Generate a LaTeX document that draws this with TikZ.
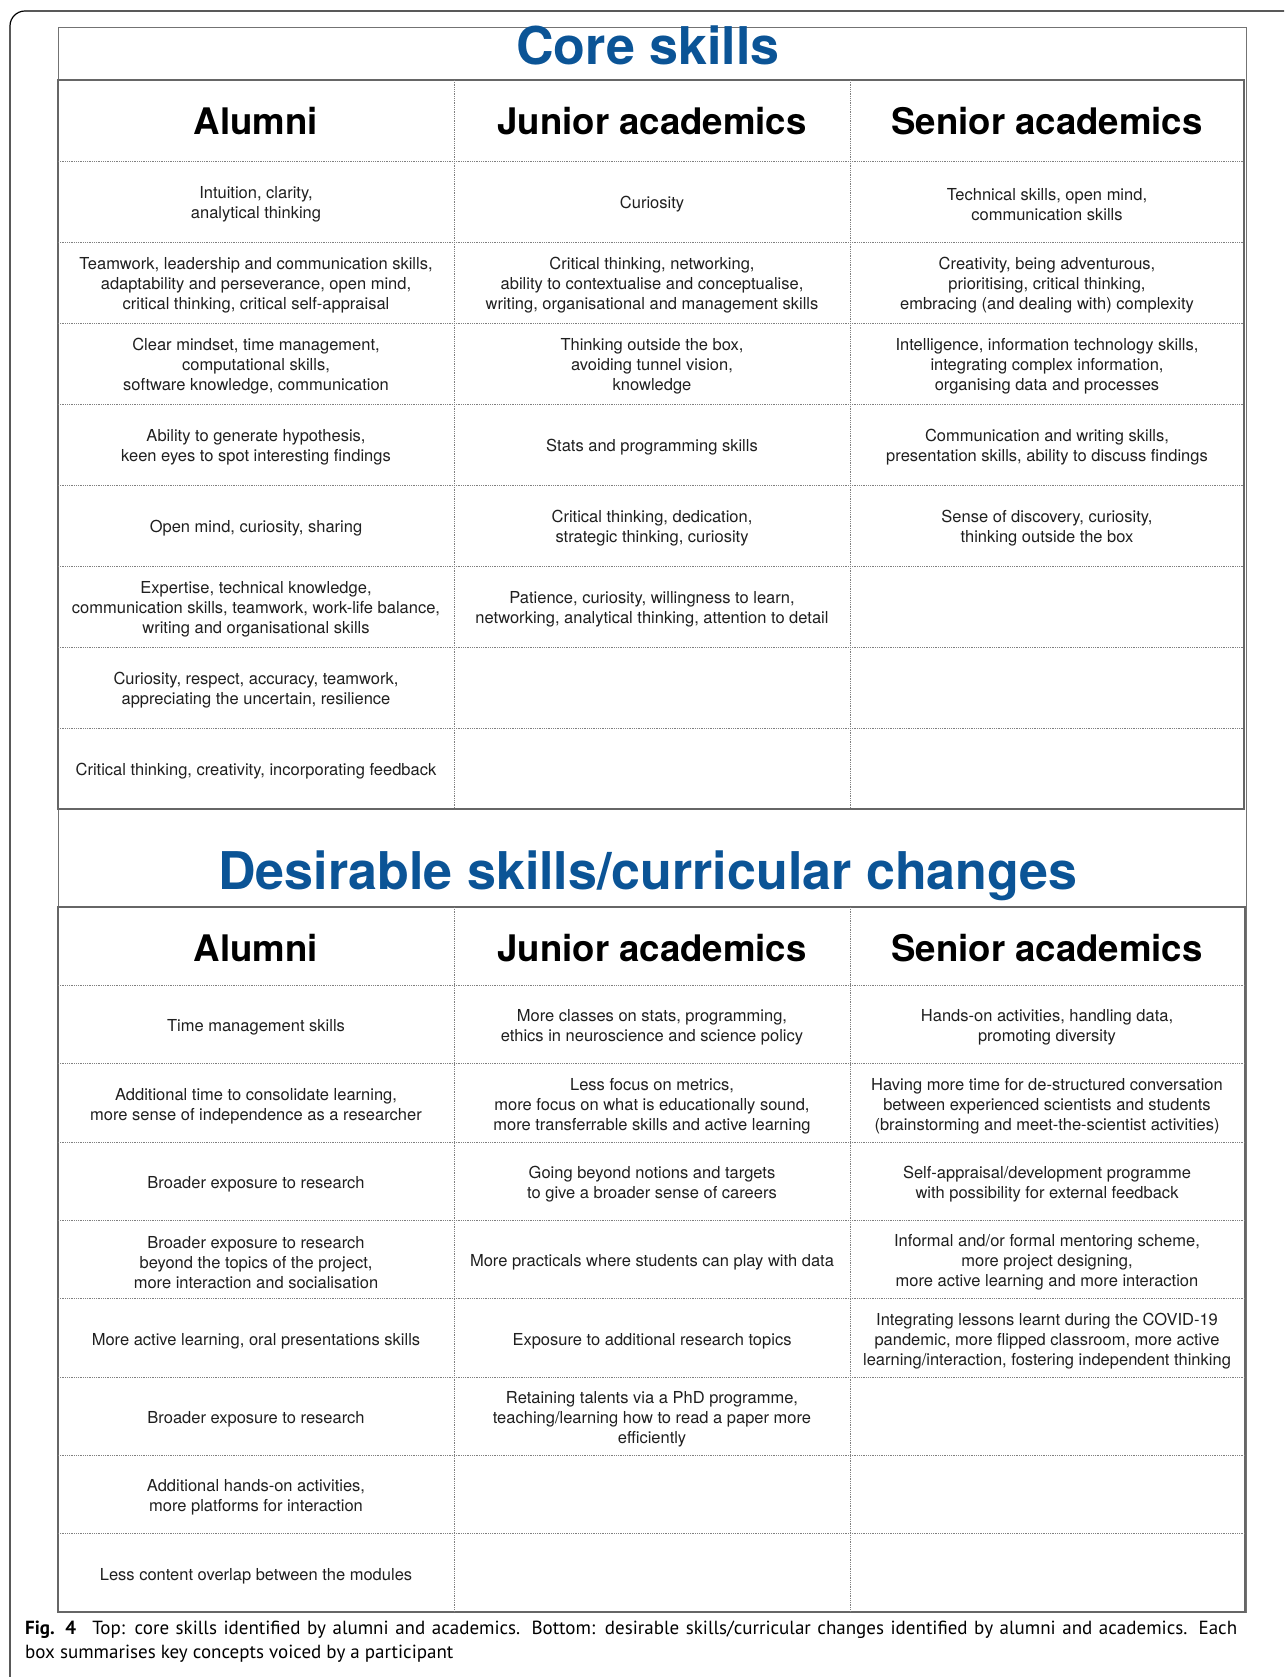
\documentclass[tikz,border=0pt]{standalone}
\usepackage{fontspec}
\setmainfont{TeX Gyre Heros}
\newfontfamily\capfont{PT Sans}
\usetikzlibrary{positioning,calc}
\definecolor{coreblue}{RGB}{11,84,150}
\tikzstyle{frame}=[draw=black,line width=1.2pt,rounded corners=15pt]
\tikzstyle{titlebox}=[draw=black!55,line width=0.8pt]
\tikzstyle{tablebox}=[draw=black!60,line width=1.8pt]
\tikzstyle{gridline}=[draw=black!50,densely dotted,line width=0.8pt]
\tikzstyle{title}=[anchor=base,text=coreblue,font=\fontsize{52}{60}\selectfont\bfseries]
\tikzstyle{head}=[anchor=base,font=\fontsize{36.6}{40}\selectfont\bfseries]
\tikzstyle{cell}=[align=center,inner sep=0pt,yshift=-3pt,text=black!88,font=\fontsize{16.5}{20}\selectfont]
\tikzstyle{capline}=[anchor=base west,inner sep=0pt,font=\capfont\fontsize{19}{24}\selectfont]

\begin{document}
\begin{tikzpicture}[x=1pt,y=-1pt]
\useasboundingbox (0,0) rectangle (1284,1677);
\draw[frame] (10,1677) -- (10,11) -- (1284,11);
\draw[titlebox] (58,27) rectangle (1246,1612);
\draw[tablebox] (58,80) rectangle (1244,809);
\draw[tablebox] (58,907) rectangle (1245,1612);
\foreach \k in {1,...,8} {
  \draw[gridline] (58,{80+81*\k}) -- (1244,{80+81*\k});
  \draw[gridline] (58,{907+78.33*\k}) -- (1245,{907+78.33*\k});
}
\foreach \x in {454,850} {
  \draw[gridline] (\x,80) -- (\x,809);
  \draw[gridline] (\x,907) -- (\x,1612);
}

\node[title] (core) at (648,65) {Core skills};
\node[head] (alumni1) at (256,135) {Alumni};
\node[head] (junior1) at (652,135) {Junior academics};
\node[head] (senior1) at (1047,135) {Senior academics};

\node[cell] (a1) at (256,201.5) {Intuition, clarity,\\analytical thinking};
\node[cell] (a2) at (256,282.5) {Teamwork, leadership and communication skills,\\adaptability and perseverance, open mind,\\critical thinking, critical self-appraisal};
\node[cell] (a3) at (256,363.5) {Clear mindset, time management,\\computational skills,\\software knowledge, communication};
\node[cell] (a4) at (256,444.5) {Ability to generate hypothesis,\\keen eyes to spot interesting findings};
\node[cell] (a5) at (256,525.5) {Open mind, curiosity, sharing};
\node[cell] (a6) at (256,606.5) {Expertise, technical knowledge,\\communication skills, teamwork, work-life balance,\\writing and organisational skills};
\node[cell] (a7) at (256,687.5) {Curiosity, respect, accuracy, teamwork,\\appreciating the uncertain, resilience};
\node[cell] (a8) at (256,768.5) {Critical thinking, creativity, incorporating feedback};

\node[cell] (j1) at (652,201.5) {Curiosity};
\node[cell] (j2) at (652,282.5) {Critical thinking, networking,\\ability to contextualise and conceptualise,\\writing, organisational and management skills};
\node[cell] (j3) at (652,363.5) {Thinking outside the box,\\avoiding tunnel vision,\\knowledge};
\node[cell] (j4) at (652,444.5) {Stats and programming skills};
\node[cell] (j5) at (652,525.5) {Critical thinking, dedication,\\strategic thinking, curiosity};
\node[cell] (j6) at (652,606.5) {Patience, curiosity, willingness to learn,\\networking, analytical thinking, attention to detail};

\node[cell] (s1) at (1047,201.5) {Technical skills, open mind,\\communication skills};
\node[cell] (s2) at (1047,282.5) {Creativity, being adventurous,\\prioritising, critical thinking,\\embracing (and dealing with) complexity};
\node[cell] (s3) at (1047,363.5) {Intelligence, information technology skills,\\integrating complex information,\\organising data and processes};
\node[cell] (s4) at (1047,444.5) {Communication and writing skills,\\presentation skills, ability to discuss findings};
\node[cell] (s5) at (1047,525.5) {Sense of discovery, curiosity,\\thinking outside the box};

\node[title] (desire) at (648,889) {Desirable skills/curricular changes};
\node[head] (alumni2) at (256,961.5) {Alumni};
\node[head] (junior2) at (652,961.5) {Junior academics};
\node[head] (senior2) at (1047,961.5) {Senior academics};

\node[cell] (da1) at (256,1024.5) {Time management skills};
\node[cell] (da2) at (256,1102.8) {Additional time to consolidate learning,\\more sense of independence as a researcher};
\node[cell] (da3) at (256,1181.2) {Broader exposure to research};
\node[cell] (da4) at (256,1259.5) {Broader exposure to research\\beyond the topics of the project,\\more interaction and socialisation};
\node[cell] (da5) at (256,1337.8) {More active learning, oral presentations skills};
\node[cell] (da6) at (256,1416.2) {Broader exposure to research};
\node[cell] (da7) at (256,1494.5) {Additional hands-on activities,\\more platforms for interaction};
\node[cell] (da8) at (256,1572.8) {Less content overlap between the modules};

\node[cell] (dj1) at (652,1024.5) {More classes on stats, programming,\\ethics in neuroscience and science policy};
\node[cell] (dj2) at (652,1102.8) {Less focus on metrics,\\more focus on what is educationally sound,\\more transferrable skills and active learning};
\node[cell] (dj3) at (652,1181.2) {Going beyond notions and targets\\to give a broader sense of careers};
\node[cell] (dj4) at (652,1259.5) {More practicals where students can play with data};
\node[cell] (dj5) at (652,1337.8) {Exposure to additional research topics};
\node[cell] (dj6) at (652,1416.2) {Retaining talents via a PhD programme,\\teaching/learning how to read a paper more\\efficiently};

\node[cell] (ds1) at (1047,1024.5) {Hands-on activities, handling data,\\promoting diversity};
\node[cell] (ds2) at (1047,1102.8) {Having more time for de-structured conversation\\between experienced scientists and students\\(brainstorming and meet-the-scientist activities)};
\node[cell] (ds3) at (1047,1181.2) {Self-appraisal/development programme\\with possibility for external feedback};
\node[cell] (ds4) at (1047,1259.5) {Informal and/or formal mentoring scheme,\\more project designing,\\more active learning and more interaction};
\node[cell] (ds5) at (1047,1337.8) {Integrating lessons learnt during the COVID-19\\pandemic, more flipped classroom, more active\\learning/interaction, fostering independent thinking};

\node[capline] (cap1) at (25,1634) {\makebox[1212pt][s]{\textbf{Fig. 4}\hspace{0.5em} Top: core skills identified by alumni and academics. Bottom: desirable skills/curricular changes identified by alumni and academics. Each}};
\node[capline] (cap2) at (25,1658) {box summarises key concepts voiced by a participant};
\end{tikzpicture}
\end{document}
